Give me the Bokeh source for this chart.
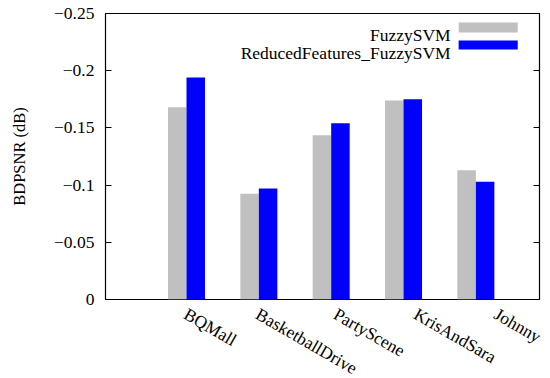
from bokeh.plotting import figure
from bokeh.models import (Range1d, FixedTicker, LinearAxis, ColumnDataSource,
                          CustomJSTickFormatter)
from bokeh.core.properties import value
from bokeh.embed import file_html
from bokeh.resources import INLINE

categories = ["BQMall", "BasketballDrive", "PartyScene", "KrisAndSara", "Johnny"]
fuzzy_svm = [-0.168, -0.0925, -0.1435, -0.174, -0.113]
reduced_fuzzy_svm = [-0.194, -0.097, -0.154, -0.175, -0.103]
series_names = ["FuzzySVM", "ReducedFeatures_FuzzySVM"]
y_ticks = [0, -0.05, -0.1, -0.15, -0.2, -0.25]
y_tick_labels = ["0", "\u22120.05", "\u22120.1", "\u22120.15", "\u22120.2", "\u22120.25"]

# style
FONT = "Liberation Serif"
AXIS_FONT = "'Liberation Serif', 'Times New Roman', serif"
FS = "17.5px"
GREY = "#c0c0c0"
BLUE = "#0000ff"
BAR_W = 0.256
label_dx = [4, 3.5, 9, 17, 25]   # pixel nudges of the rotated labels

xs = list(range(len(categories)))

p = figure(width=550, height=378, output_backend="svg", toolbar_location=None,
           x_range=Range1d(-1.12, 4.88), y_range=Range1d(0, -0.25),
           min_border_left=105, min_border_right=11, min_border_top=13, min_border_bottom=79,
           x_axis_location=None, y_axis_location=None)
p.grid.visible = False
p.outline_line_color = "black"
p.outline_line_width = 1.2
p.background_fill_color = "white"
p.border_fill_color = "white"

src = ColumnDataSource(dict(
    xg=[x - BAR_W / 2 for x in xs],
    xb=[x + BAR_W / 2 for x in xs],
    g=fuzzy_svm, b=reduced_fuzzy_svm,
    name=categories, lx=xs, ly=[0] * len(xs), dx=label_dx,
))
p.vbar(x="xg", width=BAR_W, bottom=0, top="g", source=src, fill_color=GREY, line_color=None)
p.vbar(x="xb", width=BAR_W, bottom=0, top="b", source=src, fill_color=BLUE, line_color=None)

# y axis (left)
yax = LinearAxis(ticker=FixedTicker(ticks=y_ticks))
yax.formatter = CustomJSTickFormatter(args=dict(tv=y_ticks, tl=y_tick_labels), code="""
    for (let i = 0; i < tv.length; i++) {
        if (Math.abs(tv[i] - tick) < 1e-9) { return tl[i]; }
    }
    return "";
""")
yax.axis_line_color = None
yax.major_tick_in = 6
yax.major_tick_out = 0
yax.minor_tick_line_color = None
yax.major_tick_line_color = "black"
yax.major_label_standoff = 11
yax.major_label_text_font = AXIS_FONT
yax.major_label_text_font_size = FS
yax.major_label_text_color = "black"
yax.axis_label = "BDPSNR (dB)"
yax.axis_label_text_font = AXIS_FONT
yax.axis_label_text_font_size = "16.5px"
yax.axis_label_text_font_style = "normal"
yax.axis_label_text_color = "black"
yax.axis_label_standoff = 22
p.add_layout(yax, "left")

# mirrored y ticks (right)
rax = LinearAxis(ticker=FixedTicker(ticks=y_ticks))
rax.axis_line_color = None
rax.major_tick_in = 6
rax.major_tick_out = 0
rax.minor_tick_line_color = None
rax.major_tick_line_color = "black"
rax.major_label_text_alpha = 0
rax.major_label_text_font_size = "1px"
rax.major_label_standoff = 0
p.add_layout(rax, "right")

# rotated category labels (drawn at annotation level so they are not clipped to the frame)
p.text(x="lx", y="ly", text="name", source=src, angle=-30, angle_units="deg",
       x_offset="dx", y_offset=4.5, text_align="left", text_baseline="top",
       text_font=value(FONT), text_font_size=value(FS), text_color="black",
       level="annotation")

# legend (manual, gnuplot style: label left of swatch)
leg_x_text = 3.651
leg_y_text = [-0.2316, -0.2156]
p.text(x=[leg_x_text] * 2, y=leg_y_text, text=series_names, text_align="right",
       text_baseline="alphabetic", text_font=value(FONT), text_font_size=value(FS),
       text_color="black")
p.quad(left=[3.762, 3.762], right=[4.579, 4.579],
       bottom=[-0.2334, -0.2185], top=[-0.2421, -0.2264],
       fill_color=[GREY, BLUE], line_color=None)

open("out.html", "w").write(file_html(p, INLINE))
